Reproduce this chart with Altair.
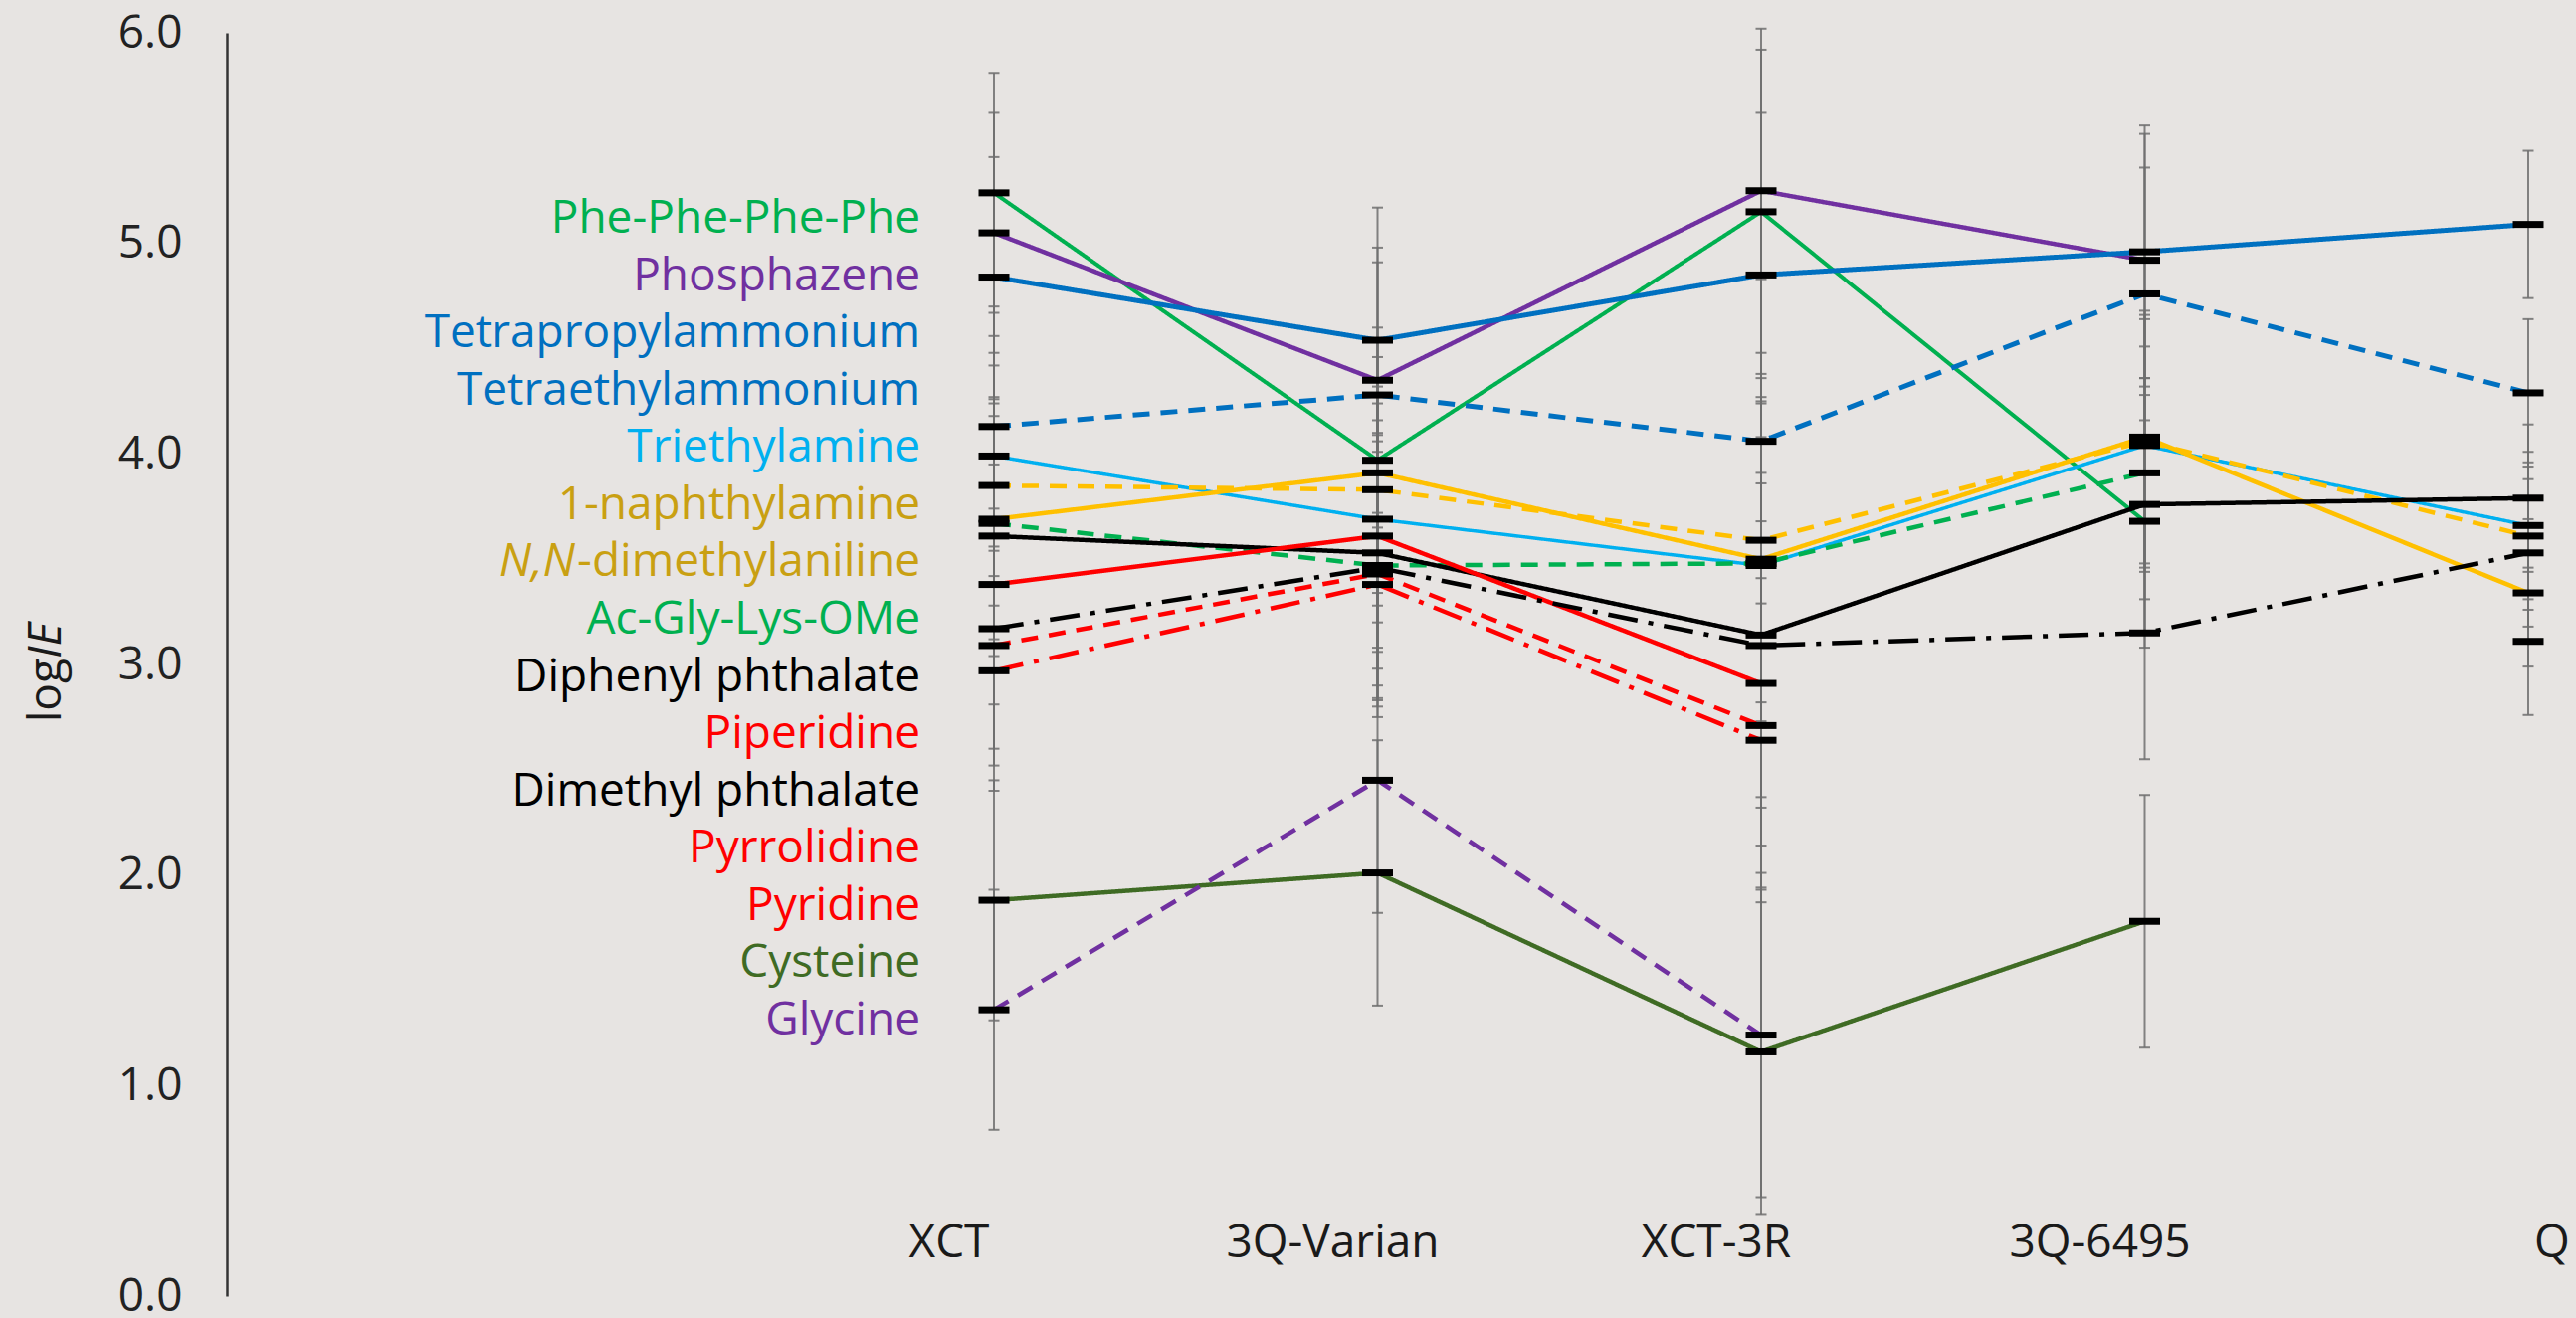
import altair as alt
import pandas as pd

# ---- data ----
instruments = ["XCT", "3Q-Varian", "XCT-3R", "3Q-6495", "Q"]
instrument_err = [0.57, 0.63, 0.77, 0.60, 0.35]

compounds = ["Phe-Phe-Phe-Phe", "Phosphazene", "Tetrapropylammonium", "Tetraethylammonium",
             "Triethylamine", "1-naphthylamine", "N,N-dimethylaniline", "Ac-Gly-Lys-OMe",
             "Diphenyl phthalate", "Piperidine", "Dimethyl phthalate", "Pyrrolidine",
             "Pyridine", "Cysteine", "Glycine"]

phe_phe_phe_phe = [5.24, 3.97, 5.15, 3.68, None]
phosphazene = [5.05, 4.35, 5.25, 4.92, None]
tetrapropylammonium = [4.84, 4.54, 4.85, 4.96, 5.09]
tetraethylammonium = [4.13, 4.28, 4.06, 4.76, 4.29]
triethylamine = [3.99, 3.69, 3.47, 4.04, 3.66]
naphthylamine = [3.85, 3.83, 3.59, 4.06, 3.61]
dimethylaniline = [3.69, 3.91, 3.50, 4.08, 3.34]
ac_gly_lys_ome = [3.67, 3.47, 3.48, 3.91, None]
diphenyl_phthalate = [3.61, 3.53, 3.14, 3.76, 3.79]
piperidine = [3.38, 3.61, 2.91, None, 3.11]
dimethyl_phthalate = [3.17, 3.46, 3.09, 3.15, 3.53]
pyrrolidine = [3.09, 3.43, 2.71, None, None]
pyridine = [2.97, 3.38, 2.64, None, None]
cysteine = [1.88, 2.01, 1.16, 1.78, None]
glycine = [1.36, 2.45, 1.24, None, None]

series_values = [phe_phe_phe_phe, phosphazene, tetrapropylammonium, tetraethylammonium,
                 triethylamine, naphthylamine, dimethylaniline, ac_gly_lys_ome,
                 diphenyl_phthalate, piperidine, dimethyl_phthalate, pyrrolidine,
                 pyridine, cysteine, glycine]

italic_prefix = {"N,N-dimethylaniline": "N,N"}

# ---- styles ----
GREEN, PURPLE, BLUE, LBLUE = "#00B050", "#7030A0", "#0070C0", "#00B0F0"
GOLD, GOLD_TXT, RED, BLACK, DGREEN = "#FFC000", "#C9A012", "#FF0000", "#000000", "#3F6B24"
line_colors = [GREEN, PURPLE, BLUE, BLUE, LBLUE, GOLD, GOLD, GREEN, BLACK, RED, BLACK, RED, RED, DGREEN, PURPLE]
text_colors = [GREEN, PURPLE, BLUE, BLUE, LBLUE, GOLD_TXT, GOLD_TXT, GREEN, BLACK, RED, BLACK, RED, RED, DGREEN, PURPLE]
SOLID, DASH, DASHDOT = [1, 0], [17, 11], [30, 11, 5, 11]
dashes = [SOLID, SOLID, SOLID, DASH, SOLID, DASH, SOLID, DASH, SOLID, SOLID, DASHDOT, DASH, DASHDOT, SOLID, DASH]
widths = [4, 4.5, 5, 5, 3.5, 4.5, 4.5, 4.5, 4.5, 4.5, 4.5, 4.5, 4.5, 4.5, 4.5]

FONT = "Open Sans"
FS = 46
BG = "#E7E4E2"
ERR = "#6E6E6E"

# ---- long table ----
rows = []
for name, vals in zip(compounds, series_values):
    seg = 0
    prev = None
    for i, (inst, v, e) in enumerate(zip(instruments, vals, instrument_err)):
        if v is None:
            prev = None
            continue
        if prev is None:
            seg += 1
        rows.append({"compound": name, "instrument": inst, "idx": i, "v": v,
                     "lo": v - e, "hi": v + e, "seg": f"{name}#{seg}"})
        prev = v
df = pd.DataFrame(rows)

legend_df = pd.DataFrame({
    "compound": compounds,
    "main": [c[len(italic_prefix[c]):] if c in italic_prefix else c for c in compounds],
    "ital": [italic_prefix.get(c, "") for c in compounds],
})
xlab_df = pd.DataFrame({"instrument": instruments})

W, H = 2361, 1270
xscale = alt.Scale(type="point", domain=instruments, range=[771, 2313], padding=0)
yscale = alt.Scale(domain=[0, 6], nice=False, zero=False)
X = alt.X("instrument:N", scale=xscale, axis=None)

base = alt.Chart(df)

errbars = base.mark_rule(color=ERR, strokeWidth=2, opacity=0.85).encode(
    x=X, y=alt.Y("lo:Q", scale=yscale), y2="hi:Q")
cap_lo = base.mark_tick(color=ERR, size=11, thickness=2, orient="horizontal", opacity=0.85).encode(
    x=X, y=alt.Y("lo:Q", scale=yscale))
cap_hi = base.mark_tick(color=ERR, size=11, thickness=2, orient="horizontal", opacity=0.85).encode(
    x=X, y=alt.Y("hi:Q", scale=yscale))

lines = base.mark_line(strokeCap="butt").encode(
    x=X,
    y=alt.Y("v:Q", scale=yscale,
            axis=alt.Axis(values=[0, 1, 2, 3, 4, 5, 6], format=".1f", title=None,
                          ticks=False, grid=False, labelFont=FONT, labelFontSize=FS,
                          labelColor="#222222", labelPadding=45, domainColor="#333333",
                          domainWidth=2.5)),
    color=alt.Color("compound:N", scale=alt.Scale(domain=compounds, range=line_colors), legend=None),
    strokeDash=alt.StrokeDash("compound:N", scale=alt.Scale(domain=compounds, range=dashes), legend=None),
    strokeWidth=alt.StrokeWidth("compound:N", scale=alt.Scale(type="ordinal", domain=compounds, range=widths), legend=None),
    detail="seg:N",
    order=alt.Order("idx:Q"),
)

markers = base.mark_tick(color="black", size=31, thickness=7, orient="horizontal", opacity=1).encode(
    x=X, y=alt.Y("v:Q", scale=yscale))

xlabels_main = alt.Chart(xlab_df).transform_filter("datum.instrument != 'Q'").mark_text(
    font=FONT, fontSize=FS, color="#1a1a1a", align="center", baseline="alphabetic", dx=-45
).encode(x=X, y=alt.value(1231), text="instrument:N")
xlabels_q = alt.Chart(xlab_df).transform_filter("datum.instrument == 'Q'").mark_text(
    font=FONT, fontSize=FS, color="#1a1a1a", align="left", baseline="alphabetic", dx=6
).encode(x=X, y=alt.value(1231), text="instrument:N")

inner = alt.layer(errbars, cap_lo, cap_hi, lines, markers, xlabels_main, xlabels_q)

leg_y = alt.Y("compound:N", scale=alt.Scale(type="point", domain=compounds, range=[201, 1007], padding=0), axis=None)
leg_color = alt.Color("compound:N", scale=alt.Scale(domain=compounds, range=text_colors), legend=None)
legend_main = alt.Chart(legend_df).mark_text(
    font=FONT, fontSize=FS, align="right", baseline="alphabetic"
).encode(x=alt.value(697), y=leg_y, text="main:N", color=leg_color)
legend_ital = alt.Chart(legend_df).transform_filter("datum.ital != ''").mark_text(
    font=FONT, fontSize=FS, fontStyle="italic", align="right", baseline="alphabetic", dx=-347
).encode(x=alt.value(697), y=leg_y, text="ital:N", color=leg_color)

title_df = pd.DataFrame({"part": ["log", "IE"]})
title_log = alt.Chart(title_df).transform_filter("datum.part == 'log'").mark_text(
    font=FONT, fontSize=FS, angle=270, align="right", baseline="middle", color="#1a1a1a"
).encode(x=alt.value(47 - 228), y=alt.value(662 - 33), text="part:N")
title_ie = alt.Chart(title_df).transform_filter("datum.part == 'IE'").mark_text(
    font=FONT, fontSize=FS, angle=270, align="left", baseline="middle", fontStyle="italic", color="#1a1a1a"
).encode(x=alt.value(47 - 228), y=alt.value(662 - 33), text="part:N")

chart = alt.layer(inner, legend_main, legend_ital, title_log, title_ie).resolve_scale(
    y="independent", color="independent"
).properties(
    width=W, height=H,
    autosize=alt.AutoSizeParams(type="none"),
    padding={"left": 228, "top": 33, "right": 0, "bottom": 22},
    background=BG,
).configure_view(stroke=None)

chart.save("out.html", embed_options={"renderer": "svg", "actions": False})
